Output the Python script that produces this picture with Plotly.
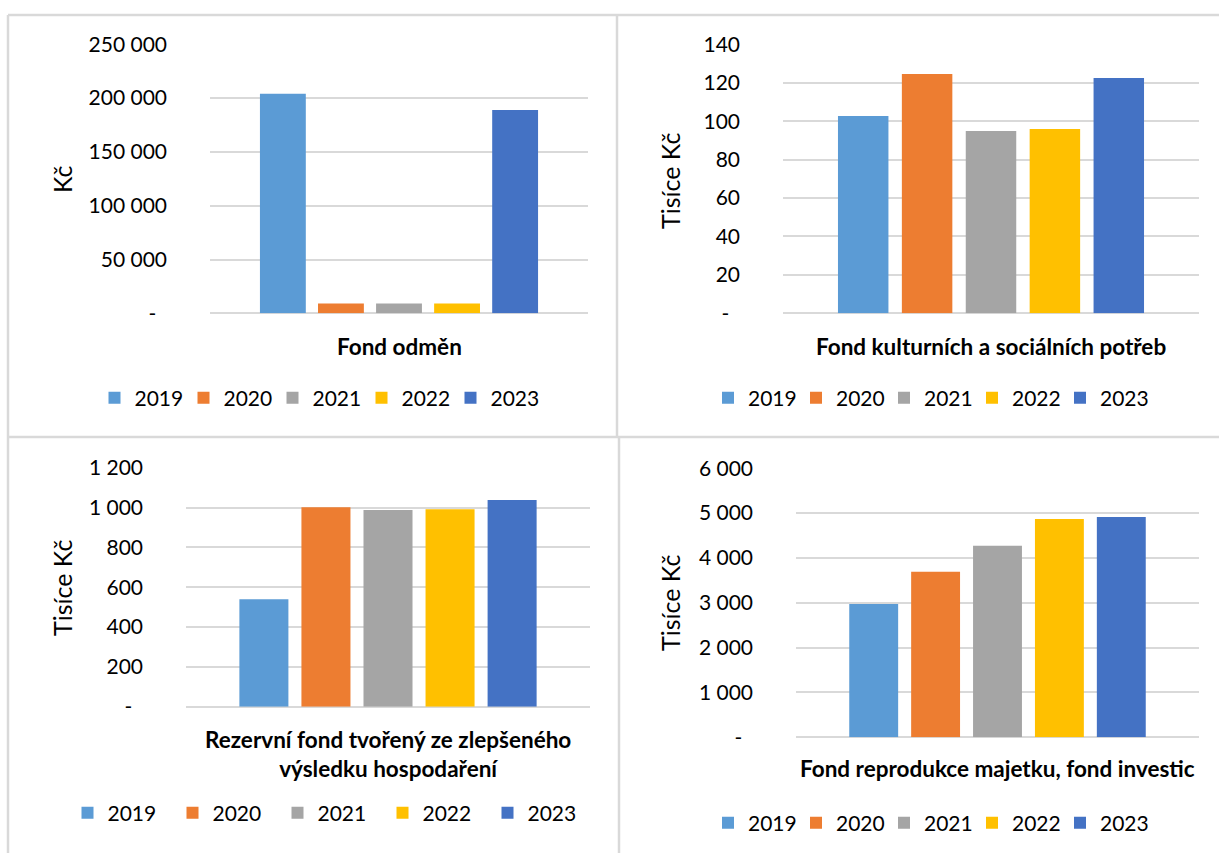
import plotly.graph_objects as go

W, H = 1219, 853

years = ["2019", "2020", "2021", "2022", "2023"]
colors = ["#5B9BD5", "#ED7D31", "#A5A5A5", "#FFC000", "#4472C4"]

# Fund balances per year
fond_odmen = [204000, 9000, 9000, 9000, 189000]              # Kč
fond_fksp = [102.7, 124.5, 94.9, 95.9, 122.5]                # tis. Kč
fond_rezervni = [540, 1002, 987, 992, 1038]                   # tis. Kč
fond_reprodukce = [2975, 3690, 4270, 4870, 4915]              # tis. Kč

ticks_odmen = [0, 50000, 100000, 150000, 200000, 250000]
ticks_fksp = [0, 20, 40, 60, 80, 100, 120, 140]
ticks_rezervni = [0, 200, 400, 600, 800, 1000, 1200]
ticks_reprodukce = [0, 1000, 2000, 3000, 4000, 5000, 6000]

titles = [
    "Fond odměn",
    "Fond kulturních a sociálních potřeb",
    "Rezervní fond tvořený ze zlepšeného<br>výsledku hospodaření",
    "Fond reprodukce majetku, fond investic",
]
y_titles = ["Kč", "Tisíce Kč", "Tisíce Kč", "Tisíce Kč"]

FONT = "Lato"
GRID = "#D9D9D9"


def px(x):
    return x / W


def py(y):
    return 1 - y / H


def fmt(v):
    if v == 0:
        return "-\u00a0\u00a0"
    return f"{v:,}".replace(",", " ")


# pixel geometry of each panel: plot area, title, axis title, legend
panels = [
    dict(vals=fond_odmen, ticks=ticks_odmen, x0=210, x1=588, y0=44.3, y1=313.3,
         title_y=346, ytitle_x=62, ytitle_y=179, leg_x=317, leg_y=398, entry=44),
    dict(vals=fond_fksp, ticks=ticks_fksp, x0=783, x1=1199, y0=44.3, y1=313.3,
         title_y=346, ytitle_x=670, ytitle_y=181, leg_x=928, leg_y=398, entry=43),
    dict(vals=fond_rezervni, ticks=ticks_rezervni, x0=186, x1=590, y0=467.7, y1=706.7,
         title_y=754, ytitle_x=62, ytitle_y=588, leg_x=330, leg_y=813, entry=60),
    dict(vals=fond_reprodukce, ticks=ticks_reprodukce, x0=796, x1=1199, y0=468.3, y1=737.3,
         title_y=768, ytitle_x=670, ytitle_y=603, leg_x=928, leg_y=823, entry=43),
]

fig = go.Figure()
annotations = []
layout_extra = {}

for i, p in enumerate(panels, start=1):
    sfx = "" if i == 1 else str(i)
    leg = "legend" if i == 1 else f"legend{i}"
    for yr, col, v in zip(years, colors, p["vals"]):
        fig.add_trace(go.Bar(
            x=[titles[i - 1]], y=[v], name=yr,
            marker=dict(color=col, line=dict(width=0)),
            xaxis=f"x{sfx}", yaxis=f"y{sfx}", legend=leg,
            hovertemplate=f"{yr}: %{{y}}<extra></extra>",
        ))

    layout_extra[f"xaxis{sfx}"] = dict(
        domain=[px(p["x0"]), px(p["x1"])], anchor=f"y{sfx}",
        showticklabels=False, showgrid=False, zeroline=False, showline=False,
        automargin=False, fixedrange=True,
    )
    top = p["ticks"][-1]
    layout_extra[f"yaxis{sfx}"] = dict(
        domain=[py(p["y1"]), py(p["y0"])], anchor=f"x{sfx}",
        range=[0, top], tickvals=p["ticks"], ticktext=[fmt(t) for t in p["ticks"]],
        showgrid=True, gridcolor=GRID, gridwidth=2,
        zeroline=True, zerolinecolor=GRID, zerolinewidth=2,
        showline=False, ticks="", ticklabelstandoff=42,
        tickfont=dict(family=FONT, size=21, color="#000000"),
        automargin=False, fixedrange=True,
    )
    layout_extra[leg] = dict(
        orientation="h", x=px(p["leg_x"]), xanchor="center",
        y=py(p["leg_y"]), yanchor="middle",
        font=dict(family=FONT, size=21, color="#000000"),
        bgcolor="rgba(0,0,0,0)", entrywidth=p["entry"], entrywidthmode="pixels",
        traceorder="normal", itemclick=False, itemdoubleclick=False,
    )

    annotations.append(dict(
        text=f"<b>{titles[i - 1]}</b>", xref="paper", yref="paper",
        x=px((p["x0"] + p["x1"]) / 2), y=py(p["title_y"]),
        xanchor="center", yanchor="middle", showarrow=False, align="center",
        font=dict(family=FONT, size=22.5, color="#000000"),
    ))
    annotations.append(dict(
        text=y_titles[i - 1], xref="paper", yref="paper",
        x=px(p["ytitle_x"]), y=py(p["ytitle_y"]), textangle=-90,
        xanchor="center", yanchor="middle", showarrow=False,
        font=dict(family=FONT, size=25, color="#000000"),
    ))

# panel frames
BORDER = "#D9D9D9"
frame_lines = [
    (8, 15, 1219, 15),
    (8, 437, 1219, 437),
    (8, 15, 8, 853),
    (617, 15, 617, 437),
    (619, 437, 619, 853),
]
shapes = [
    dict(type="line", xref="paper", yref="paper",
         x0=px(a), y0=py(b), x1=px(c), y1=py(d),
         line=dict(color=BORDER, width=2.5), layer="below")
    for a, b, c, d in frame_lines
]

fig.update_layout(
    width=W, height=H,
    margin=dict(l=0, r=0, t=0, b=0, pad=0, autoexpand=False),
    paper_bgcolor="white", plot_bgcolor="white",
    barmode="group", bargap=0.232, bargroupgap=0.21,
    annotations=annotations, shapes=shapes,
    font=dict(family=FONT, color="#000000"),
    **layout_extra,
)

fig.write_html("out.html")
